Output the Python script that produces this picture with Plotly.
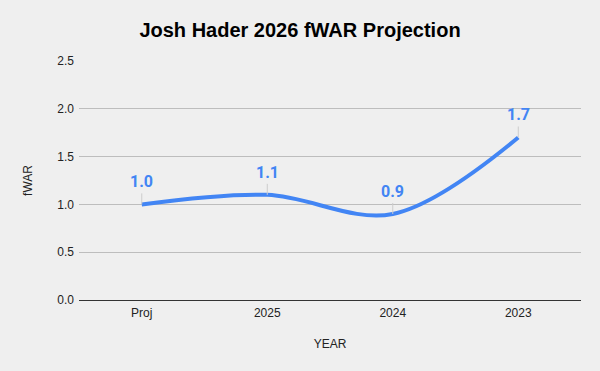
import plotly.graph_objects as go

years = ["Proj", "2025", "2024", "2023"]
fwar = [1.0, 1.1, 0.9, 1.7]
labels = ["1.0", "1.1", "0.9", "1.7"]

BLUE = "#4285F4"
BG = "#efefef"

fig = go.Figure()
fig.add_trace(go.Scatter(
    x=years, y=fwar, mode="lines",
    line=dict(color=BLUE, width=4, shape="spline", smoothing=1.0),
    hoverinfo="x+y", showlegend=False,
))

for i, (y, t) in enumerate(zip(fwar, labels)):
    fig.add_annotation(
        x=i, y=y, text=t, showarrow=True, arrowhead=0, arrowwidth=1,
        arrowcolor="#cccccc", ax=0, ay=-11, yanchor="bottom",
        standoff=0, startstandoff=0,
        font=dict(family="Roboto, Arial", size=16, color=BLUE, weight="bold"),
    )

fig.update_layout(
    width=600, height=371,
    paper_bgcolor=BG, plot_bgcolor=BG,
    margin=dict(l=79, r=19, t=61, b=71),
    title=dict(text="<b>Josh Hader 2026 fWAR Projection</b>", x=0.5, xanchor="center",
               y=0.918, yanchor="middle",
               font=dict(family="Liberation Sans, Arial", size=20, color="#000000")),
    font=dict(family="Liberation Sans, Arial", size=12, color="#222222"),
    xaxis=dict(
        type="category", range=[-0.5, 3.5], showgrid=False, zeroline=False,
        showline=True, linecolor="#333333", linewidth=1,
        ticks="", tickfont=dict(size=12, color="#222222"), ticklabelstandoff=2,
        title=dict(text="YEAR", font=dict(size=12, color="#222222"), standoff=20),
    ),
    yaxis=dict(
        range=[0, 2.5], dtick=0.5, tickformat=".1f",
        showgrid=True, gridcolor="#bdbdbd", gridwidth=1, zeroline=False,
        ticks="", tickfont=dict(size=12, color="#222222"), ticklabelstandoff=4,
        title=dict(text="fWAR", font=dict(size=12, color="#222222"), standoff=22),
    ),
)

fig.write_html("out.html", config={"displayModeBar": False},
               post_script="document.body.style.margin='0';document.body.style.background='#efefef';")
